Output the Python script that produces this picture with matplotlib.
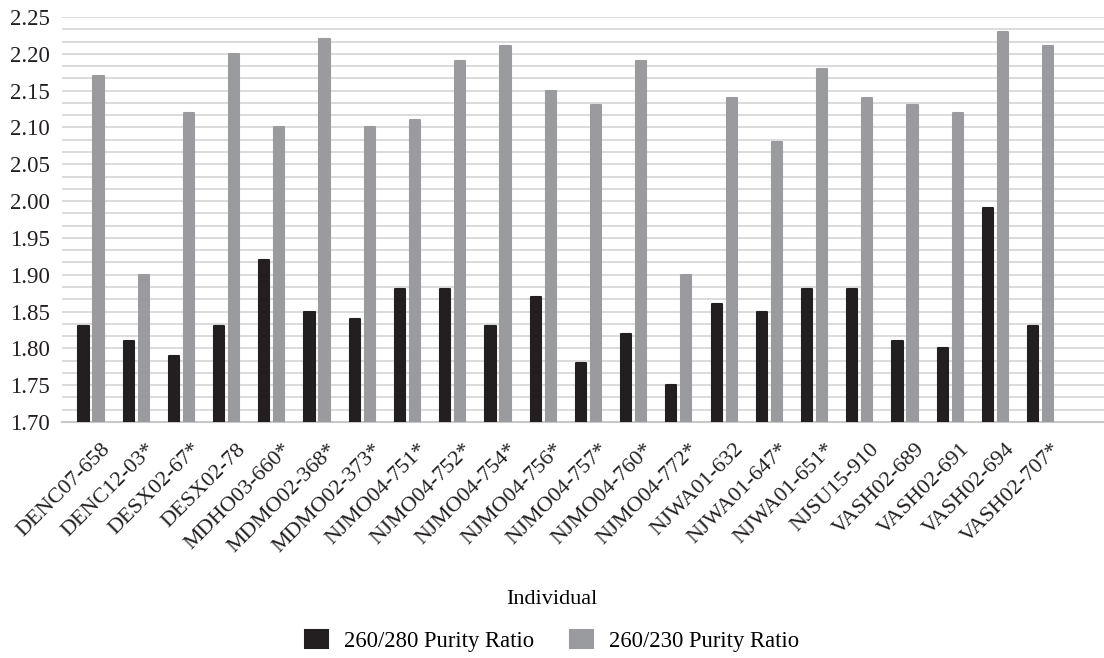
import numpy as np
import matplotlib
matplotlib.use("Agg")
from matplotlib import pyplot as plt
from matplotlib.ticker import MultipleLocator
import matplotlib.transforms as mtransforms

# data
individuals = ["DENC07-658", "DENC12-03*", "DESX02-67*", "DESX02-78", "MDHO03-660*",
               "MDMO02-368*", "MDMO02-373*", "NJMO04-751*", "NJMO04-752*", "NJMO04-754*",
               "NJMO04-756*", "NJMO04-757*", "NJMO04-760*", "NJMO04-772*", "NJWA01-632",
               "NJWA01-647*", "NJWA01-651*", "NJSU15-910", "VASH02-689", "VASH02-691",
               "VASH02-694", "VASH02-707*"]
ratio_280 = [1.83, 1.81, 1.79, 1.83, 1.92, 1.85, 1.84, 1.88, 1.88, 1.83, 1.87,
             1.78, 1.82, 1.75, 1.86, 1.85, 1.88, 1.88, 1.81, 1.80, 1.99, 1.83]
ratio_230 = [2.17, 1.90, 2.12, 2.20, 2.10, 2.22, 2.10, 2.11, 2.19, 2.21, 2.15,
             2.13, 2.19, 1.90, 2.14, 2.08, 2.18, 2.14, 2.13, 2.12, 2.23, 2.21]

plt.rcParams['font.family'] = ['Liberation Serif', 'DejaVu Serif']

fig = plt.figure(figsize=(11.04, 6.58), dpi=100)
ax = fig.add_axes([62/1104, 1 - 422/658, 1 - 62/1104, (422 - 17)/658])

x = np.arange(len(individuals))
w = 0.225
off = 0.166
b1 = ax.bar(x - off, np.array(ratio_280) - 1.70, w, bottom=1.70, color="#231f20",
            edgecolor="#231f20", linewidth=1.5, joinstyle="round",
            label="260/280 Purity Ratio", zorder=3)
b2 = ax.bar(x + off, np.array(ratio_230) - 1.70, w, bottom=1.70, color="#9a9b9f",
            edgecolor="#9a9b9f", linewidth=1.5, joinstyle="round",
            label="260/230 Purity Ratio", zorder=3)

ax.set_ylim(1.70, 2.25)
ax.set_xlim(-0.64, 22.4)
ax.yaxis.set_major_locator(MultipleLocator(0.05))
ax.yaxis.set_minor_locator(MultipleLocator(0.05 / 3))
ax.yaxis.set_major_formatter(plt.FormatStrFormatter("%.2f"))
ax.grid(axis="y", which="both", color="#d9d9d9", linewidth=1.3, zorder=0)
ax.set_axisbelow(True)
for s in ["top", "right", "left"]:
    ax.spines[s].set_visible(False)
ax.spines["bottom"].set_color("#c8c8c8")
ax.spines["bottom"].set_linewidth(1.5)
ax.tick_params(axis="both", which="both", length=0, colors="#231f20")
ax.tick_params(axis="y", pad=9, labelsize=16.5)

ax.set_xticks(x)
ax.set_xticklabels(individuals, rotation=45, ha="right", va="top",
                   rotation_mode="anchor", fontsize=16)
shift = mtransforms.ScaledTranslation(10/100, -13/100, fig.dpi_scale_trans)
for lab in ax.get_xticklabels():
    lab.set_transform(lab.get_transform() + shift)

fig.text(552/1104, 1 - 600/658, "Individual", ha="center", va="center", fontsize=16)
leg = fig.legend(handles=[b1, b2], loc="center", bbox_to_anchor=(552/1104, 1 - 641/658),
                 ncol=2, frameon=False, fontsize=16.3, handlelength=1.0, handleheight=0.8,
                 columnspacing=1.6, handletextpad=0.7)

fig.savefig("out.png", dpi=100)
